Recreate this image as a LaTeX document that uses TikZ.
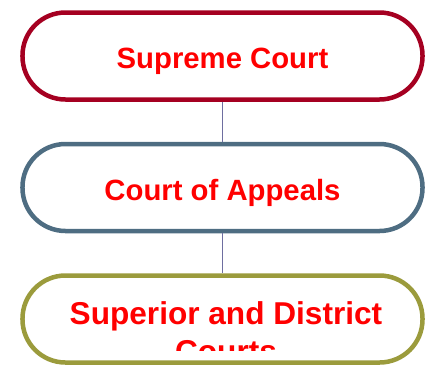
\documentclass[tikz,border=0pt]{standalone}
\usepackage{fontspec}
\setmainfont{Liberation Sans}
\usetikzlibrary{positioning}

\definecolor{supremered}{RGB}{165,0,33}
\definecolor{appealsblue}{RGB}{78,109,130}
\definecolor{superiorolive}{RGB}{155,155,60}
\definecolor{linkpurple}{RGB}{110,110,160}

\begin{document}
\begin{tikzpicture}[x=1bp, y=1bp, node distance=40bp,
                    court text/.style={text=red,font=\fontsize{#1}{1.21\dimexpr#1\relax}\selectfont\bfseries},
                    court text/.default=29.3bp,
                    court node/.style={draw,line width=4.5bp,rounded corners=43bp,fill=white,
                      minimum width=400bp,minimum height=87bp,inner sep=0pt,
                      text height=25bp,text depth=0pt,court text}]

  \useasboundingbox (0,0) rectangle (433,-364);

  \node[court node,draw=supremered] (1) at (222.5,-56) {Supreme Court};
  \node[court node,draw=appealsblue] (2) [below=of 1] {Court of Appeals};
  \node[court node,draw=superiorolive] (3) [below=of 2] {};

  % text of the last box runs out of its frame
  \begin{scope}
    \clip (0,-290) rectangle (433,-350);
    \node[court text=31.6bp,align=center,anchor=base,inner sep=0pt] (3t) at (226,-362.6) {Superior and District\\Courts};
  \end{scope}

  \path[draw=linkpurple,line width=1bp]
    (1) edge (2)
    (2) edge (3);
\end{tikzpicture}
\end{document}
